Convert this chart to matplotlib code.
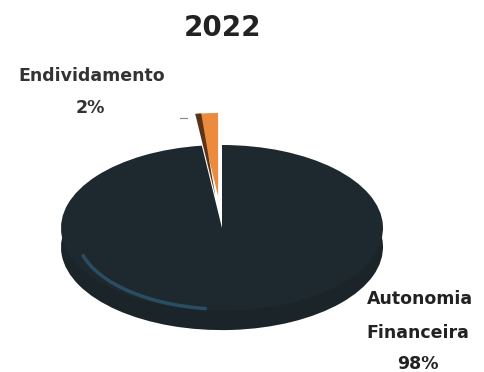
import matplotlib.pyplot as plt
from matplotlib.patches import Arc

# dados
categorias = ['Endividamento', 'Autonomia Financeira']
valores = [2, 98]
percentagens = ['2%', '98%']
cores = ['#ec8a3e', '#1e292f']
titulo = '2022'

plt.rcParams['font.family'] = ['DejaVu Sans']

W, H = 484, 372
cx, cy = 222, 228      # centro da face superior (pixels)
rx, ry = 161, 83       # semi-eixos (pixels)

fig = plt.figure(figsize=(W / 100, H / 100), dpi=100)
ax = fig.add_axes([0, 0, 1, 1])

explode = [0.386, 0]
# espessura do disco (só a fatia escura)
ax.pie(valores, colors=['none', '#1a2429'], startangle=90, counterclock=True,
       explode=explode, center=(0, -0.23), wedgeprops=dict(linewidth=0))
# face superior
fatias, _ = ax.pie(valores, colors=cores, startangle=90, counterclock=True,
                   explode=explode, center=(0, 0), wedgeprops=dict(linewidth=0))
fatias[0].set_zorder(5)
# sombra do lado esquerdo da fatia laranja
sombra, _ = ax.pie([valores[0] * 0.3, 100 - valores[0] * 0.3],
                   colors=['#5a3418', 'none'], startangle=90 + 3.6 * valores[0] * 0.7,
                   explode=explode, center=(0, 0), wedgeprops=dict(linewidth=0))
sombra[0].set_zorder(6)

# brilho azulado no bordo inferior esquerdo
ax.add_patch(Arc((0.03, -0.08), 1.86, 1.8, theta1=195, theta2=262,
                 color='#2e5b73', lw=2.5, alpha=0.75))

ax.set_aspect('auto')
ax.set_xlim(-cx / rx, (W - cx) / rx)
ax.set_ylim(-(H - cy) / ry, cy / ry)
ax.axis('off')


def fx(px):
    return px / W


def fy(py):
    return 1 - py / H


fig.text(fx(222), fy(28), titulo, ha='center', va='center',
         fontsize=20, fontweight='bold', color='#222222')

fig.text(fx(92), fy(76), categorias[0], ha='center', va='center',
         fontsize=12.5, fontweight='bold', color='#333333')
fig.text(fx(90), fy(108), percentagens[0], ha='center', va='center',
         fontsize=12.5, fontweight='bold', color='#333333')

linhas = categorias[1].split(' ')
fig.text(fx(420), fy(299), linhas[0], ha='center', va='center',
         fontsize=12.5, fontweight='bold', color='#222222')
fig.text(fx(418), fy(333), linhas[1], ha='center', va='center',
         fontsize=12.5, fontweight='bold', color='#222222')
fig.text(fx(418), fy(364), percentagens[1], ha='center', va='center',
         fontsize=12.5, fontweight='bold', color='#222222')

# pequena linha de chamada
ax.plot([(180 - cx) / rx, (187 - cx) / rx], [(cy - 118) / ry] * 2,
        color='#888888', lw=0.8)

fig.savefig('out.png', dpi=100)
